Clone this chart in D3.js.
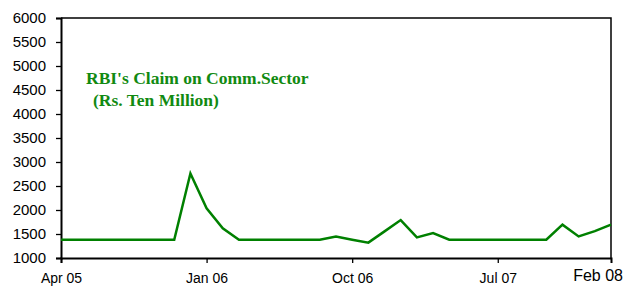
<!DOCTYPE html>
<html>
<head>
<meta charset="utf-8">
<script src="https://cdn.jsdelivr.net/npm/d3@7"></script>
<style>
  body { margin: 0; background: #fff; }
  text { font-family: "Liberation Sans", Arial, sans-serif; }
</style>
</head>
<body>
<div id="chart"></div>
<script>
// Monthly labels Apr 05 .. Feb 08
var months = ["Apr 05","May 05","Jun 05","Jul 05","Aug 05","Sep 05","Oct 05","Nov 05","Dec 05",
  "Jan 06","Feb 06","Mar 06","Apr 06","May 06","Jun 06","Jul 06","Aug 06","Sep 06","Oct 06",
  "Nov 06","Dec 06","Jan 07","Feb 07","Mar 07","Apr 07","May 07","Jun 07","Jul 07","Aug 07",
  "Sep 07","Oct 07","Nov 07","Dec 07","Jan 08","Feb 08"];

// RBI claim values (Rs. ten million)
var claims = [1380,1380,1380,1380,1380,1380,1380,1380,2760,
  2035,1620,1380,1380,1380,1380,1380,1380,1445,1380,
  1320,1555,1790,1430,1520,1380,1380,1380,1380,1380,
  1380,1380,1695,1450,1560,1695];

var xTickLabels = ["Apr 05","Jan 06","Oct 06","Jul 07"];
var yTicks = [1000,1500,2000,2500,3000,3500,4000,4500,5000,5500,6000];
var titleLines = ["RBI's Claim on Comm.Sector", "(Rs. Ten Million)"];

var svgWidth = 626, svgHeight = 289;
var margin = { top: 18, right: 15, bottom: 31, left: 61 };
var chartWidth = svgWidth - margin.left - margin.right;
var chartHeight = svgHeight - margin.top - margin.bottom;

var svg = d3.select("#chart").append("svg")
  .attr("width", svgWidth)
  .attr("height", svgHeight);

var chartGroup = svg.append("g")
  .attr("transform", `translate(${margin.left}, ${margin.top})`);

var xScale = d3.scalePoint()
  .domain(months)
  .range([0, chartWidth]);

var yScale = d3.scaleLinear()
  .domain([1000, 6000])
  .range([chartHeight, 0]);

// frame (top and right)
chartGroup.append("path")
  .attr("d", `M0,0H${chartWidth}V${chartHeight}`)
  .attr("fill", "none")
  .attr("stroke", "#000")
  .attr("stroke-width", 1.5);

// y axis
var yAxis = chartGroup.append("g")
  .call(d3.axisLeft(yScale).tickValues(yTicks).tickSize(5).tickPadding(10).tickFormat(d3.format("d")));
yAxis.select(".domain").attr("stroke-width", 2);
yAxis.selectAll(".tick line").attr("stroke-width", 1.3);
yAxis.selectAll("text").attr("font-size", 15).attr("fill", "#000")
  .style("font-family", "Liberation Sans, Arial, sans-serif");

// x axis
var xAxis = chartGroup.append("g")
  .attr("transform", `translate(0, ${chartHeight})`)
  .call(d3.axisBottom(xScale).tickValues(xTickLabels).tickSize(5).tickPadding(10));
xAxis.select(".domain").attr("stroke-width", 2);
xAxis.selectAll(".tick line").attr("stroke-width", 1.3);
xAxis.selectAll("text").attr("font-size", 14).attr("fill", "#000")
  .style("font-family", "Liberation Sans, Arial, sans-serif");

// last label, larger
chartGroup.append("text")
  .attr("x", chartWidth + 12)
  .attr("y", chartHeight + 23)
  .attr("text-anchor", "end")
  .attr("font-size", 16)
  .attr("fill", "#000")
  .text("Feb 08");

// line
var line = d3.line()
  .x((d, i) => xScale(months[i]))
  .y(d => yScale(d));

chartGroup.append("path")
  .datum(claims)
  .attr("d", line)
  .attr("fill", "none")
  .attr("stroke", "#008000")
  .attr("stroke-width", 2.5)
  .attr("stroke-linejoin", "miter");

// title
chartGroup.selectAll(".title")
  .data(titleLines)
  .enter()
  .append("text")
  .attr("class", "title")
  .attr("x", (d, i) => i === 0 ? 25 : 32)
  .attr("y", (d, i) => 66 + i * 22)
  .attr("font-size", 17.5)
  .attr("font-weight", "bold")
  .attr("fill", "#118a11")
  .style("font-family", "Liberation Serif, 'Times New Roman', serif")
  .text(d => d);
</script>
</body>
</html>
